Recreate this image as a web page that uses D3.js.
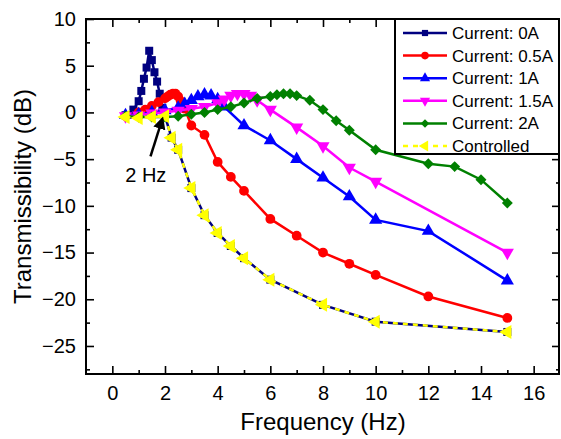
<!DOCTYPE html>
<html>
<head>
<meta charset="utf-8">
<script src="https://cdn.jsdelivr.net/npm/d3@7"></script>
<style>
  body { margin: 0; background: #fff; }
  svg { display: block; font-family: "Liberation Sans", Arial, sans-serif; }
</style>
</head>
<body>
<svg id="chart" width="561" height="439"></svg>
<script>
// Data
const seriesNames = ['Current: 0A', 'Current: 0.5A', 'Current: 1A', 'Current: 1.5A', 'Current: 2A', 'Controlled'];

const freq0A = [0.5, 0.8, 1.0, 1.1, 1.2, 1.3, 1.4, 1.5, 1.6, 1.7, 1.8, 1.9, 2.0, 2.25, 2.5, 3, 3.5, 4, 4.5, 5, 6, 8, 10, 15];
const db0A = [-0.3, 0.3, 1.2, 2.3, 3.6, 4.8, 6.6, 5.6, 4.3, 3.3, 2.0, 0.5, -0.4, -2.7, -4.0, -8.1, -11.0, -12.9, -14.3, -15.6, -17.9, -20.6, -22.4, -23.5];

const freq05A = [0.5, 1.0, 1.25, 1.5, 1.75, 2.0, 2.1, 2.2, 2.3, 2.4, 2.5, 2.6, 2.75, 3, 3.5, 4, 4.5, 5, 6, 7, 8, 9, 10, 12, 15];
const db05A = [-0.4, 0.0, 0.3, 0.7, 1.1, 1.5, 1.7, 1.9, 2.0, 2.0, 1.7, 1.2, 0.4, -1.4, -2.4, -5.3, -6.9, -8.4, -11.4, -13.2, -15.0, -16.2, -17.4, -19.7, -22.0];

const freq1A = [0.5, 1.0, 1.5, 2.0, 2.5, 2.75, 3.0, 3.25, 3.5, 3.75, 4.0, 4.25, 5, 6, 7, 8, 9, 10, 12, 15];
const db1A = [-0.3, -0.2, 0.0, 0.2, 0.5, 0.9, 1.3, 1.7, 1.9, 1.8, 1.4, 0.6, -1.4, -3.0, -5.0, -7.0, -9.0, -11.5, -12.7, -18.0];

const freq15A = [0.5, 1.0, 1.5, 2.0, 2.5, 3.0, 3.5, 4.0, 4.25, 4.5, 4.75, 5.0, 5.25, 5.5, 6, 7, 8, 9, 10, 15];
const db15A = [-0.4, -0.3, -0.1, 0.0, 0.2, 0.4, 0.6, 1.0, 1.4, 1.8, 2.0, 2.0, 1.8, 1.3, 0.3, -1.6, -3.6, -5.9, -7.4, -15.0];

const freq2A = [0.5, 1.0, 1.5, 2.0, 2.5, 3.0, 3.5, 4.0, 4.5, 5.0, 5.5, 6.0, 6.25, 6.5, 6.75, 7.0, 7.5, 8.0, 8.5, 9.0, 10, 12, 13, 14, 15];
const db2A = [-0.4, -0.5, -0.5, -0.5, -0.4, -0.2, 0.0, 0.3, 0.6, 1.0, 1.5, 1.7, 1.9, 2.0, 2.0, 1.8, 1.3, 0.3, -0.9, -1.9, -4.0, -5.5, -5.8, -7.2, -9.7];

const freqCtrl = [0.5, 1.0, 1.5, 2.0, 2.25, 2.5, 3, 3.5, 4, 4.5, 5, 6, 8, 10, 15];
const dbCtrl = [-0.5, -0.6, -0.5, -0.4, -2.7, -4.0, -8.1, -11.0, -12.9, -14.3, -15.6, -17.9, -20.6, -22.4, -23.5];

const xTicks = [0, 2, 4, 6, 8, 10, 12, 14, 16];
const yTicks = [-25, -20, -15, -10, -5, 0, 5, 10];

// annotation: "2 Hz" with arrow pointing to the controlled curve
const noteText = '2 Hz';
const notePos = [0.49, -7.5];
const arrowFrom = [1.45, -4.7];
const arrowTo = [1.9, -0.7];

// Layout
const svg = d3.select('#chart');
const margin = {left: 86, top: 19, right: 1, bottom: 65};
const W = 561, H = 439;
const x = d3.scaleLinear().domain([-1, 17]).range([margin.left, W - margin.right]);
const y = d3.scaleLinear().domain([-28, 10]).range([H - margin.bottom, margin.top]);

const styles = [
  {color: '#000080', symbol: d3.symbolSquare, size: 64, rot: 0, dash: null},
  {color: '#ff0000', symbol: d3.symbolCircle, size: 75, rot: 0, dash: null},
  {color: '#0000ff', symbol: d3.symbolTriangle, size: 75, rot: 0, dash: null},
  {color: '#ff00ff', symbol: d3.symbolTriangle, size: 75, rot: 180, dash: null},
  {color: '#008000', symbol: d3.symbolSquare, size: 60, rot: 45, dash: null},
  {color: '#ffff00', symbol: d3.symbolTriangle, size: 85, rot: -90, dash: '5,5'}
];

const series = [
  [freq0A, db0A], [freq05A, db05A], [freq1A, db1A],
  [freq15A, db15A], [freq2A, db2A], [freqCtrl, dbCtrl]
].map((s, i) => ({
  name: seriesNames[i],
  style: styles[i],
  pts: s[0].map((f, j) => [f, s[1][j]])
}));

// Axes with inward ticks
const x0 = x.range()[0], x1 = x.range()[1];
const y0 = y.range()[0], y1 = y.range()[1];

function minorTicks(a, b, step) {
  return d3.range(a, b + 1e-9, step);
}

const gAxes = svg.append('g');
gAxes.append('g').attr('transform', `translate(0,${y0})`)
  .call(d3.axisBottom(x).tickValues(xTicks).tickSizeInner(-8).tickSizeOuter(0).tickPadding(12));
gAxes.append('g').attr('transform', `translate(0,${y0})`)
  .call(d3.axisBottom(x).tickValues(minorTicks(1, 15, 2)).tickSizeInner(-4).tickSizeOuter(0).tickFormat(''));
gAxes.append('g').attr('transform', `translate(0,${y1})`)
  .call(d3.axisTop(x).tickValues(xTicks).tickSizeInner(-8).tickSizeOuter(0).tickFormat(''));
gAxes.append('g').attr('transform', `translate(0,${y1})`)
  .call(d3.axisTop(x).tickValues(minorTicks(1, 15, 2)).tickSizeInner(-4).tickSizeOuter(0).tickFormat(''));
gAxes.append('g').attr('transform', `translate(${x0},0)`)
  .call(d3.axisLeft(y).tickValues(yTicks).tickSizeInner(-8).tickSizeOuter(0).tickPadding(10));
gAxes.append('g').attr('transform', `translate(${x0},0)`)
  .call(d3.axisLeft(y).tickValues(minorTicks(-27.5, 7.5, 5)).tickSizeInner(-4).tickSizeOuter(0).tickFormat(''));
gAxes.append('g').attr('transform', `translate(${x1},0)`)
  .call(d3.axisRight(y).tickValues(yTicks).tickSizeInner(-8).tickSizeOuter(0).tickFormat(''));
gAxes.append('g').attr('transform', `translate(${x1},0)`)
  .call(d3.axisRight(y).tickValues(minorTicks(-27.5, 7.5, 5)).tickSizeInner(-4).tickSizeOuter(0).tickFormat(''));

gAxes.selectAll('.domain').remove();
gAxes.selectAll('.tick line').attr('stroke', '#000').attr('stroke-width', 1.6);
gAxes.selectAll('.tick text')
  .attr('font-family', '"Liberation Sans", Arial, sans-serif')
  .attr('font-size', 20).attr('fill', '#000');

// frame
svg.append('rect')
  .attr('x', x0).attr('y', y1)
  .attr('width', x1 - x0 - 1).attr('height', y0 - y1)
  .attr('fill', 'none').attr('stroke', '#000').attr('stroke-width', 2);

// Lines and markers
const line = d3.line().x(d => x(d[0])).y(d => y(d[1]));
const plot = svg.append('g');

series.forEach((s, i) => {
  const g = plot.append('g');
  g.append('path').attr('d', line(s.pts))
    .attr('fill', 'none').attr('stroke', s.style.color)
    .attr('stroke-width', 2.5).attr('stroke-dasharray', s.style.dash);
  g.selectAll('path.mk').data(s.pts).enter().append('path')
    .attr('class', 'mk')
    .attr('d', d3.symbol().type(s.style.symbol).size(s.style.size))
    .attr('transform', d => `translate(${x(d[0])},${y(d[1])}) rotate(${s.style.rot})`)
    .attr('fill', s.style.color);
});

// Annotation
svg.append('defs').append('marker')
  .attr('id', 'ah').attr('viewBox', '0 0 10 10')
  .attr('refX', 8).attr('refY', 5)
  .attr('markerWidth', 5).attr('markerHeight', 5)
  .attr('orient', 'auto')
  .append('path').attr('d', 'M0,0L10,5L0,10Z').attr('fill', '#000');

svg.append('line')
  .attr('x1', x(arrowFrom[0])).attr('y1', y(arrowFrom[1]))
  .attr('x2', x(arrowTo[0])).attr('y2', y(arrowTo[1]))
  .attr('stroke', '#000').attr('stroke-width', 2.5)
  .attr('marker-end', 'url(#ah)');

svg.append('text')
  .attr('x', x(notePos[0])).attr('y', y(notePos[1]))
  .attr('font-size', 20).text(noteText);

// Legend
const lg = svg.append('g');
const lgX = 395, lgY = y1, lgH = 135;
lg.append('rect')
  .attr('x', lgX).attr('y', lgY)
  .attr('width', x1 - lgX - 1).attr('height', lgH)
  .attr('fill', '#fff').attr('stroke', '#000').attr('stroke-width', 2);

const rows = lg.selectAll('g.row').data(series).enter().append('g')
  .attr('class', 'row')
  .attr('transform', (d, i) => `translate(${lgX}, ${lgY + 14 + i * 22.6})`);
rows.append('line')
  .attr('x1', 8).attr('x2', 52).attr('y1', 0).attr('y2', 0)
  .attr('stroke', d => d.style.color).attr('stroke-width', 2.5)
  .attr('stroke-dasharray', d => d.style.dash);
rows.append('path')
  .attr('d', d => d3.symbol().type(d.style.symbol).size(d.style.size * 0.6)())
  .attr('transform', d => `translate(30,0) rotate(${d.style.rot})`)
  .attr('fill', d => d.style.color);
rows.append('text')
  .attr('x', 57).attr('y', 6)
  .attr('font-size', 17).text(d => d.name);

// Axis titles
svg.append('text')
  .attr('x', (x0 + x1) / 2).attr('y', 430)
  .attr('text-anchor', 'middle').attr('font-size', 24)
  .text('Frequency (Hz)');
svg.append('text')
  .attr('transform', `translate(31, ${(y0 + y1) / 2}) rotate(-90)`)
  .attr('text-anchor', 'middle').attr('font-size', 24)
  .text('Transmissibility (dB)');
</script>
</body>
</html>
